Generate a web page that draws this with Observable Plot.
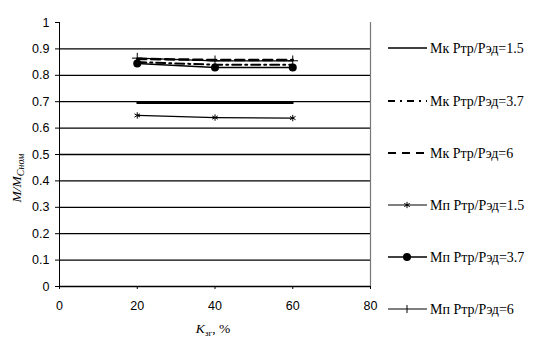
<!DOCTYPE html>
<html><head><meta charset="utf-8">
<script src="https://cdn.jsdelivr.net/npm/d3@7"></script>
<script src="https://cdn.jsdelivr.net/npm/@observablehq/plot@0.6"></script>
<style>
body{margin:0;background:#fff;}
#wrap{position:relative;width:537px;height:345px;}
#wrap svg{position:absolute;left:0;top:0;}
</style>
</head><body><div id="wrap"></div>
<script>
const xs = [20, 40, 60];
const mk15 = [0.695, 0.695, 0.695];
const mk37 = [0.850, 0.840, 0.840];
const mk6  = [0.862, 0.858, 0.858];
const mp15 = [0.648, 0.640, 0.638];
const mp37 = [0.845, 0.830, 0.830];
const mp6  = [0.865, 0.855, 0.855];
const seriesNames = ["Мк Ртр/Рэд=1.5","Мк Ртр/Рэд=3.7","Мк Ртр/Рэд=6","Мп Ртр/Рэд=1.5","Мп Ртр/Рэд=3.7","Мп Ртр/Рэд=6"];
const yTicks = [0,0.1,0.2,0.3,0.4,0.5,0.6,0.7,0.8,0.9,1];
const xTicks = [0,20,40,60,80];

const toRows = vals => xs.map((x,i)=>({x, y: vals[i]}));
const font = "Liberation Sans, Arial, sans-serif";

const plot = Plot.plot({
  width: 537, height: 345,
  marginLeft: 59, marginTop: 22, marginBottom: 59, marginRight: 167,
  x: {domain: [0, 80]},
  y: {domain: [0, 1]},
  style: {fontFamily: font, fontSize: "12.5px", color: "#000", background: "transparent"},
  marks: [
    Plot.ruleY(yTicks.filter(t => t > 0 && t < 1), {stroke: "#000", strokeWidth: 1.3}),
    Plot.ruleX([0], {y1: 0, y2: 1, stroke: "#000", strokeWidth: 1}),
    Plot.ruleX([80], {y1: 0, y2: 1, stroke: "#777", strokeWidth: 1.2}),
    Plot.ruleY([0], {stroke: "#000", strokeWidth: 1.5}),
    Plot.axisY({ticks: yTicks, tickSize: 4, tickPadding: 6, label: null, tickFormat: d => String(d)}),
    Plot.axisX({ticks: xTicks, tickSize: 3, tickPadding: 12, label: null}),
    Plot.line(toRows(mk15), {x: "x", y: "y", stroke: "#000", strokeWidth: 2}),
    Plot.line(toRows(mk37), {x: "x", y: "y", stroke: "#000", strokeWidth: 2, strokeDasharray: "9,4,2,4"}),
    Plot.line(toRows(mk6), {x: "x", y: "y", stroke: "#000", strokeWidth: 2.5, strokeDasharray: "9,5"}),
    Plot.line(toRows(mp15), {x: "x", y: "y", stroke: "#000", strokeWidth: 1.2}),
    Plot.dot(toRows(mp15), {x: "x", y: "y", symbol: "asterisk", r: 3, stroke: "#000", strokeWidth: 1}),
    Plot.line(toRows(mp37), {x: "x", y: "y", stroke: "#000", strokeWidth: 1.5}),
    Plot.dot(toRows(mp37), {x: "x", y: "y", r: 4, fill: "#000"}),
    Plot.line(toRows(mp6), {x: "x", y: "y", stroke: "#000", strokeWidth: 1.3}),
    Plot.dot(toRows(mp6), {x: "x", y: "y", symbol: "plus", r: 3.5, stroke: "#000", strokeWidth: 1})
  ]
});
document.getElementById("wrap").appendChild(plot);

// axis titles and legend
const svg = d3.select("#wrap").append("svg").attr("width", 537).attr("height", 345)
  .style("font-family", "Liberation Serif, Times New Roman, serif").style("pointer-events","none");
const yl = svg.append("text").attr("transform", "translate(21,178) rotate(-90)")
  .attr("text-anchor", "middle").style("font-size", "13.5px").style("font-style", "italic");
yl.append("tspan").text("M/M");
yl.append("tspan").attr("dy", 3).style("font-size", "10px").text("Сном");
const xl = svg.append("text").attr("x", 213).attr("y", 333).attr("text-anchor", "middle")
  .style("font-size", "13.5px");
xl.append("tspan").style("font-style","italic").text("K");
xl.append("tspan").attr("dy", 3).style("font-size", "9px").text("зг");
xl.append("tspan").attr("dy", -3).text(", %");

const legY = [48, 101, 153, 205, 257, 309];
const styles = [
  {dash: null, w: 1.3, m: null},
  {dash: "7,5,2,5", w: 2, m: null},
  {dash: "8,6", w: 2.2, m: null},
  {dash: null, w: 1.2, m: "asterisk"},
  {dash: null, w: 1.3, m: "circle"},
  {dash: null, w: 1.2, m: "plus"}
];
seriesNames.forEach((name, i) => {
  const g = svg.append("g").attr("transform", `translate(0,${legY[i]})`);
  const st = styles[i];
  g.append("line").attr("x1", 388).attr("x2", 427).attr("y1", 0).attr("y2", 0)
    .attr("stroke", "#000").attr("stroke-width", st.w).attr("stroke-dasharray", st.dash);
  if (st.m === "circle") g.append("circle").attr("cx", 407).attr("cy", 0).attr("r", 4).attr("fill", "#000");
  if (st.m === "asterisk") g.append("path").attr("transform","translate(407,0)")
    .attr("d", d3.symbol(d3.symbolAsterisk, 28)()).attr("stroke", "#000").attr("fill","none");
  if (st.m === "plus") g.append("path").attr("d", "M407,-4V4").attr("stroke", "#000");
  g.append("text").attr("x", 430).attr("y", 4.5).style("font-size", "14px").text(name);
});
</script>
</body></html>
